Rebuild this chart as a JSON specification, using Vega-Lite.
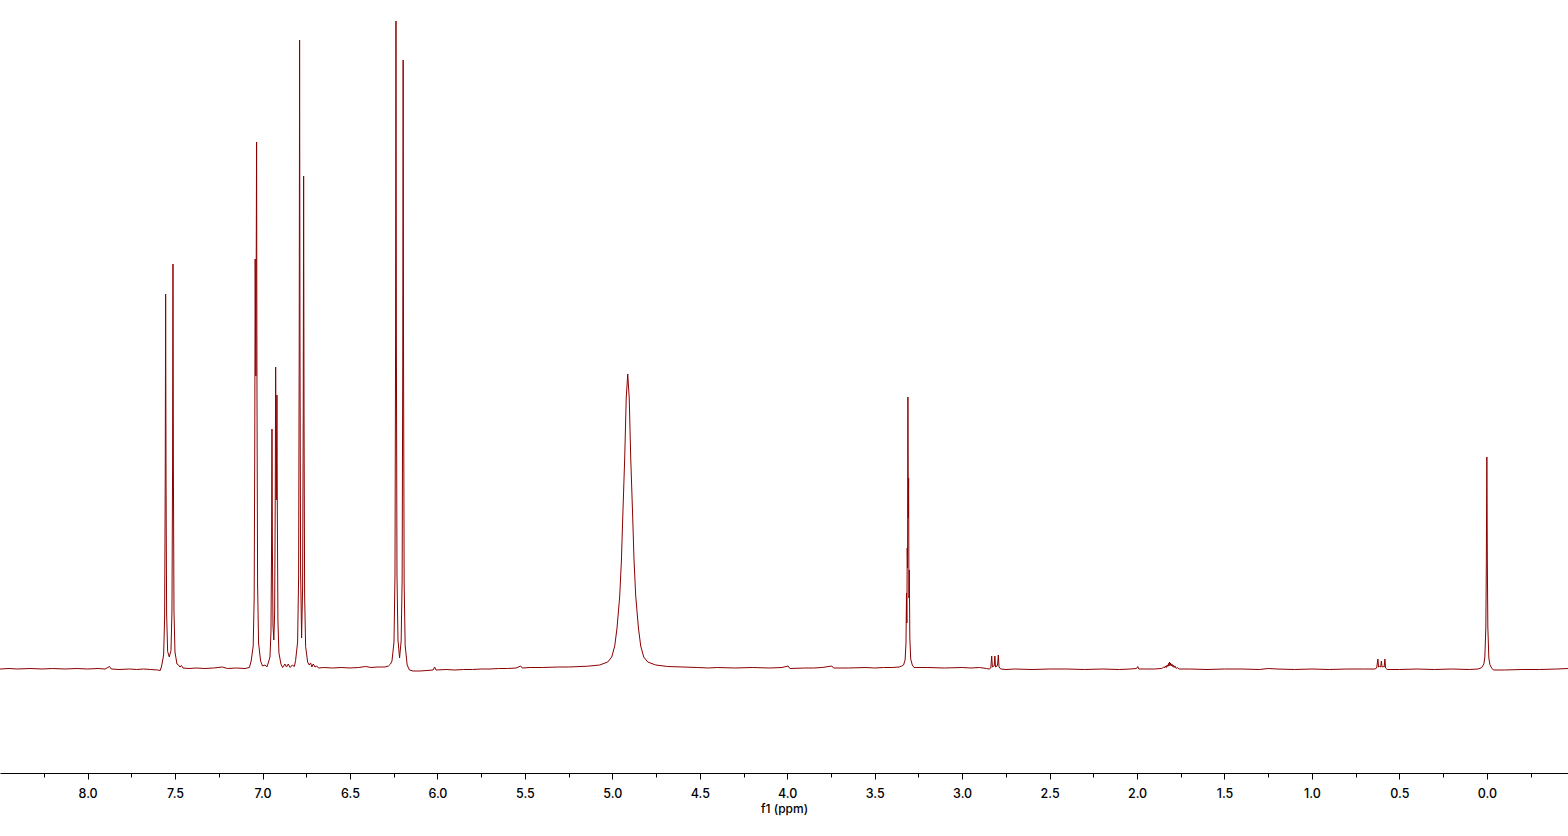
{
  "$schema": "https://vega.github.io/schema/vega-lite/v6.json",
  "width": 1568,
  "height": 773,
  "autosize": {"type": "none"},
  "padding": {"left": 0, "right": 0, "top": 0, "bottom": 63},
  "background": "white",
  "config": {"view": {"stroke": null}, "font": "Inter"},
  "data": {"values": [
    {"x": 8.501, "y": -1}, {"x": 8.45, "y": -0.5}, {"x": 8.40, "y": -1}, {"x": 8.33, "y": -0.5}, {"x": 8.26, "y": -1},
    {"x": 8.20, "y": -0.5}, {"x": 8.13, "y": -1}, {"x": 8.06, "y": -0.5}, {"x": 8.00, "y": -1}, {"x": 7.94, "y": -0.5},
    {"x": 7.90, "y": -1}, {"x": 7.875, "y": 1.5}, {"x": 7.865, "y": -1}, {"x": 7.82, "y": -1.5}, {"x": 7.76, "y": -1},
    {"x": 7.72, "y": -1.5}, {"x": 7.68, "y": -1}, {"x": 7.64, "y": -1.5}, {"x": 7.60, "y": -2}, {"x": 7.585, "y": -2.5},
    {"x": 7.577, "y": 2}, {"x": 7.5654, "y": 13}, {"x": 7.5597, "y": 51}, {"x": 7.5563, "y": 186}, {"x": 7.554, "y": 374},
    {"x": 7.5517, "y": 188}, {"x": 7.5483, "y": 54}, {"x": 7.5426, "y": 16.5}, {"x": 7.533, "y": 11}, {"x": 7.5234, "y": 17.5},
    {"x": 7.5177, "y": 58}, {"x": 7.5143, "y": 203}, {"x": 7.512, "y": 404}, {"x": 7.5097, "y": 202}, {"x": 7.5063, "y": 57},
    {"x": 7.5006, "y": 16}, {"x": 7.4891, "y": 4}, {"x": 7.480, "y": 3}, {"x": 7.472, "y": 1}, {"x": 7.464, "y": 2.5},
    {"x": 7.455, "y": 0}, {"x": 7.42, "y": -0.5}, {"x": 7.38, "y": 0}, {"x": 7.33, "y": -0.5}, {"x": 7.28, "y": 0},
    {"x": 7.23, "y": 1}, {"x": 7.20, "y": -0.5}, {"x": 7.15, "y": 0}, {"x": 7.10, "y": -0.5}, {"x": 7.075, "y": 0.5},
    {"x": 7.065, "y": 7}, {"x": 7.0534, "y": 22}, {"x": 7.0477, "y": 70}, {"x": 7.0443, "y": 227}, {"x": 7.042, "y": 409},
    {"x": 7.038, "y": 292}, {"x": 7.034, "y": 526}, {"x": 7.0317, "y": 280}, {"x": 7.0283, "y": 84}, {"x": 7.0226, "y": 25},
    {"x": 7.0111, "y": 7}, {"x": 7.000, "y": 2}, {"x": 6.985, "y": 3}, {"x": 6.975, "y": 1},
    {"x": 6.969, "y": 4}, {"x": 6.9574, "y": 11}, {"x": 6.9517, "y": 36}, {"x": 6.9483, "y": 123}, {"x": 6.946, "y": 239},
    {"x": 6.9437, "y": 126}, {"x": 6.9403, "y": 43}, {"x": 6.9355, "y": 28}, {"x": 6.9307, "y": 55}, {"x": 6.9273, "y": 170},
    {"x": 6.925, "y": 301}, {"x": 6.9213, "y": 168}, {"x": 6.9176, "y": 273}, {"x": 6.9153, "y": 153}, {"x": 6.9119, "y": 47},
    {"x": 6.9062, "y": 15}, {"x": 6.8947, "y": 4}, {"x": 6.885, "y": 0.5}, {"x": 6.872, "y": 4}, {"x": 6.863, "y": 1},
    {"x": 6.853, "y": 4}, {"x": 6.842, "y": 0.5}, {"x": 6.830, "y": 3}, {"x": 6.818, "y": 1.5},
    {"x": 6.811, "y": 7.5}, {"x": 6.7994, "y": 26}, {"x": 6.7937, "y": 91}, {"x": 6.7903, "y": 318}, {"x": 6.788, "y": 628},
    {"x": 6.7857, "y": 320}, {"x": 6.7823, "y": 97}, {"x": 6.7766, "y": 30}, {"x": 6.7709, "y": 80}, {"x": 6.7673, "y": 254},
    {"x": 6.765, "y": 492}, {"x": 6.7627, "y": 251}, {"x": 6.7593, "y": 73}, {"x": 6.7536, "y": 21.5}, {"x": 6.7421, "y": 6},
    {"x": 6.733, "y": 3}, {"x": 6.725, "y": 5}, {"x": 6.718, "y": 1}, {"x": 6.710, "y": 4}, {"x": 6.700, "y": 1},
    {"x": 6.690, "y": 2}, {"x": 6.680, "y": 0}, {"x": 6.65, "y": 0.5}, {"x": 6.60, "y": 0}, {"x": 6.55, "y": 0.5},
    {"x": 6.50, "y": 0}, {"x": 6.45, "y": 0.5}, {"x": 6.41, "y": 1.5}, {"x": 6.38, "y": 0.5}, {"x": 6.34, "y": 1},
    {"x": 6.30, "y": 1}, {"x": 6.28, "y": 2}, {"x": 6.268, "y": 4},
    {"x": 6.2599, "y": 7}, {"x": 6.2484, "y": 26}, {"x": 6.2427, "y": 92}, {"x": 6.2393, "y": 325}, {"x": 6.237, "y": 647},
    {"x": 6.2347, "y": 326}, {"x": 6.2313, "y": 93}, {"x": 6.2256, "y": 28}, {"x": 6.2165, "y": 10}, {"x": 6.2074, "y": 27},
    {"x": 6.2017, "y": 88}, {"x": 6.1983, "y": 304}, {"x": 6.196, "y": 608}, {"x": 6.1937, "y": 304}, {"x": 6.1903, "y": 85},
    {"x": 6.1846, "y": 23}, {"x": 6.1731, "y": 3}, {"x": 6.160, "y": -2}, {"x": 6.14, "y": -3}, {"x": 6.10, "y": -3},
    {"x": 6.06, "y": -2.5}, {"x": 6.025, "y": -2}, {"x": 6.016, "y": 1}, {"x": 6.008, "y": -2}, {"x": 5.95, "y": -1.5},
    {"x": 5.90, "y": -2}, {"x": 5.85, "y": -1.5}, {"x": 5.80, "y": -1.5}, {"x": 5.75, "y": -1}, {"x": 5.70, "y": -1},
    {"x": 5.65, "y": -0.5}, {"x": 5.60, "y": -0.5}, {"x": 5.55, "y": 0}, {"x": 5.524, "y": 2}, {"x": 5.515, "y": 0},
    {"x": 5.47, "y": 0.5}, {"x": 5.40, "y": 0.5}, {"x": 5.3123, "y": 1}, {"x": 5.25, "y": 1}, {"x": 5.1407, "y": 1.8},
    {"x": 5.0721, "y": 3}, {"x": 5.0264, "y": 6}, {"x": 5.0035, "y": 11}, {"x": 4.9863, "y": 22}, {"x": 4.9732, "y": 40},
    {"x": 4.9577, "y": 72}, {"x": 4.9480, "y": 108}, {"x": 4.9406, "y": 150}, {"x": 4.9292, "y": 210}, {"x": 4.9206, "y": 270},
    {"x": 4.912, "y": 294}, {"x": 4.9034, "y": 270}, {"x": 4.8948, "y": 210}, {"x": 4.8834, "y": 150}, {"x": 4.8760, "y": 108},
    {"x": 4.8663, "y": 72}, {"x": 4.8508, "y": 40}, {"x": 4.8377, "y": 22}, {"x": 4.8205, "y": 11}, {"x": 4.7976, "y": 6},
    {"x": 4.7519, "y": 3}, {"x": 4.6833, "y": 1.5}, {"x": 4.5117, "y": 0.5}, {"x": 4.45, "y": 0}, {"x": 4.40, "y": 0.5},
    {"x": 4.30, "y": 0}, {"x": 4.20, "y": 0.5}, {"x": 4.10, "y": 0}, {"x": 4.03, "y": 0.5}, {"x": 3.995, "y": 2},
    {"x": 3.985, "y": -0.5}, {"x": 3.90, "y": 0}, {"x": 3.85, "y": 0}, {"x": 3.80, "y": 0.5}, {"x": 3.745, "y": 2},
    {"x": 3.735, "y": 0}, {"x": 3.65, "y": 0}, {"x": 3.55, "y": 0.5}, {"x": 3.50, "y": 0}, {"x": 3.45, "y": 0.5},
    {"x": 3.40, "y": 0.5}, {"x": 3.36, "y": 1}, {"x": 3.345, "y": 2}, {"x": 3.335, "y": 3},
    {"x": 3.326, "y": 8}, {"x": 3.321, "y": 25}, {"x": 3.318, "y": 75}, {"x": 3.316, "y": 45}, {"x": 3.314, "y": 120},
    {"x": 3.312, "y": 100}, {"x": 3.310, "y": 271}, {"x": 3.308, "y": 150}, {"x": 3.306, "y": 190}, {"x": 3.304, "y": 70},
    {"x": 3.302, "y": 98}, {"x": 3.299, "y": 30}, {"x": 3.294, "y": 9}, {"x": 3.285, "y": 3}, {"x": 3.275, "y": 0.5},
    {"x": 3.20, "y": 0.5}, {"x": 3.10, "y": 0}, {"x": 3.00, "y": 0.5}, {"x": 2.95, "y": 0}, {"x": 2.90, "y": 0.5},
    {"x": 2.86, "y": -0.5}, {"x": 2.845, "y": -1},
    {"x": 2.836, "y": 0}, {"x": 2.831, "y": 12}, {"x": 2.827, "y": 1}, {"x": 2.822, "y": 1.5}, {"x": 2.817, "y": 2},
    {"x": 2.813, "y": 12}, {"x": 2.809, "y": 1}, {"x": 2.800, "y": 2}, {"x": 2.797, "y": 4}, {"x": 2.793, "y": 13},
    {"x": 2.789, "y": 1}, {"x": 2.780, "y": -1}, {"x": 2.75, "y": -1.5}, {"x": 2.70, "y": -1}, {"x": 2.60, "y": -1.5},
    {"x": 2.50, "y": -1}, {"x": 2.40, "y": -1}, {"x": 2.30, "y": -1.5}, {"x": 2.20, "y": -1}, {"x": 2.10, "y": -1.5},
    {"x": 2.04, "y": -1}, {"x": 2.003, "y": -0.5}, {"x": 1.996, "y": 1.5}, {"x": 1.99, "y": -1}, {"x": 1.95, "y": -1},
    {"x": 1.90, "y": -1}, {"x": 1.862, "y": -0.5},
    {"x": 1.855, "y": 0}, {"x": 1.848, "y": 1}, {"x": 1.843, "y": 0}, {"x": 1.838, "y": 2}, {"x": 1.833, "y": 0.5},
    {"x": 1.828, "y": 3}, {"x": 1.824, "y": 1.5}, {"x": 1.820, "y": 4.5}, {"x": 1.817, "y": 2}, {"x": 1.814, "y": 6},
    {"x": 1.811, "y": 3}, {"x": 1.808, "y": 5}, {"x": 1.805, "y": 2}, {"x": 1.801, "y": 4}, {"x": 1.797, "y": 1.5},
    {"x": 1.793, "y": 3}, {"x": 1.788, "y": 0.5}, {"x": 1.783, "y": 2}, {"x": 1.776, "y": -0.5}, {"x": 1.770, "y": 0.5},
    {"x": 1.760, "y": -1}, {"x": 1.70, "y": -1}, {"x": 1.60, "y": -1.5}, {"x": 1.50, "y": -1}, {"x": 1.40, "y": -1},
    {"x": 1.30, "y": -1.5}, {"x": 1.25, "y": -0.5}, {"x": 1.20, "y": -1}, {"x": 1.10, "y": -1.5}, {"x": 1.00, "y": -1},
    {"x": 0.90, "y": -1.5}, {"x": 0.80, "y": -1}, {"x": 0.70, "y": -1}, {"x": 0.64, "y": -1},
    {"x": 0.630, "y": 0}, {"x": 0.623, "y": 9}, {"x": 0.619, "y": 1}, {"x": 0.613, "y": 1.5}, {"x": 0.607, "y": 1},
    {"x": 0.603, "y": 7}, {"x": 0.599, "y": 1}, {"x": 0.592, "y": 1.5}, {"x": 0.587, "y": 1}, {"x": 0.583, "y": 9},
    {"x": 0.579, "y": 0}, {"x": 0.570, "y": -1.5}, {"x": 0.50, "y": -1.5}, {"x": 0.40, "y": -1}, {"x": 0.30, "y": -1.5},
    {"x": 0.20, "y": -1}, {"x": 0.10, "y": -1.5}, {"x": 0.05, "y": -1},
    {"x": 0.0286, "y": 0.5}, {"x": 0.0172, "y": 4}, {"x": 0.0114, "y": 11}, {"x": 0.0057, "y": 41}, {"x": 0.0029, "y": 105},
    {"x": 0.000, "y": 211}, {"x": -0.0029, "y": 105}, {"x": -0.0057, "y": 41}, {"x": -0.0114, "y": 10}, {"x": -0.0172, "y": 3.5},
    {"x": -0.0286, "y": -0.5}, {"x": -0.04, "y": -2}, {"x": -0.10, "y": -2}, {"x": -0.20, "y": -1.5}, {"x": -0.30, "y": -1.5},
    {"x": -0.40, "y": -1}, {"x": -0.464, "y": -0.5}
  ]},
  "mark": {"type": "line", "color": "#8b0000", "strokeWidth": 1, "strokeJoin": "round", "clip": true},
  "encoding": {
    "x": {
      "field": "x",
      "type": "quantitative",
      "scale": {"domain": [-0.464, 8.501], "reverse": true, "nice": false, "zero": false},
      "axis": {
        "values": [-0.25, 0, 0.25, 0.5, 0.75, 1, 1.25, 1.5, 1.75, 2, 2.25, 2.5, 2.75, 3, 3.25, 3.5, 3.75, 4, 4.25, 4.5, 4.75, 5, 5.25, 5.5, 5.75, 6, 6.25, 6.5, 6.75, 7, 7.25, 7.5, 7.75, 8, 8.25],
        "labelExpr": "datum.value % 0.5 === 0 ? format(datum.value, '.1f') : ''",
        "tickSize": {"condition": {"test": "datum.value % 0.5 === 0", "value": 6}, "value": 4},
        "labelPadding": 8,
        "labelFont": "Inter",
        "labelFontSize": 12.5,
        "labelFontWeight": 500,
        "labelColor": "#000000",
        "tickColor": "#000000",
        "domainColor": "#000000",
        "grid": false,
        "labelFlush": false,
        "labelOverlap": false,
        "labelBound": false,
        "title": "f1 (ppm)",
        "titleFont": "Inter",
        "titleFontSize": 12,
        "titleFontWeight": 500,
        "titleColor": "#000000",
        "titlePadding": 4
      }
    },
    "y": {
      "field": "y",
      "type": "quantitative",
      "scale": {"domain": [-105, 668], "nice": false, "zero": false},
      "axis": null
    }
  }
}
